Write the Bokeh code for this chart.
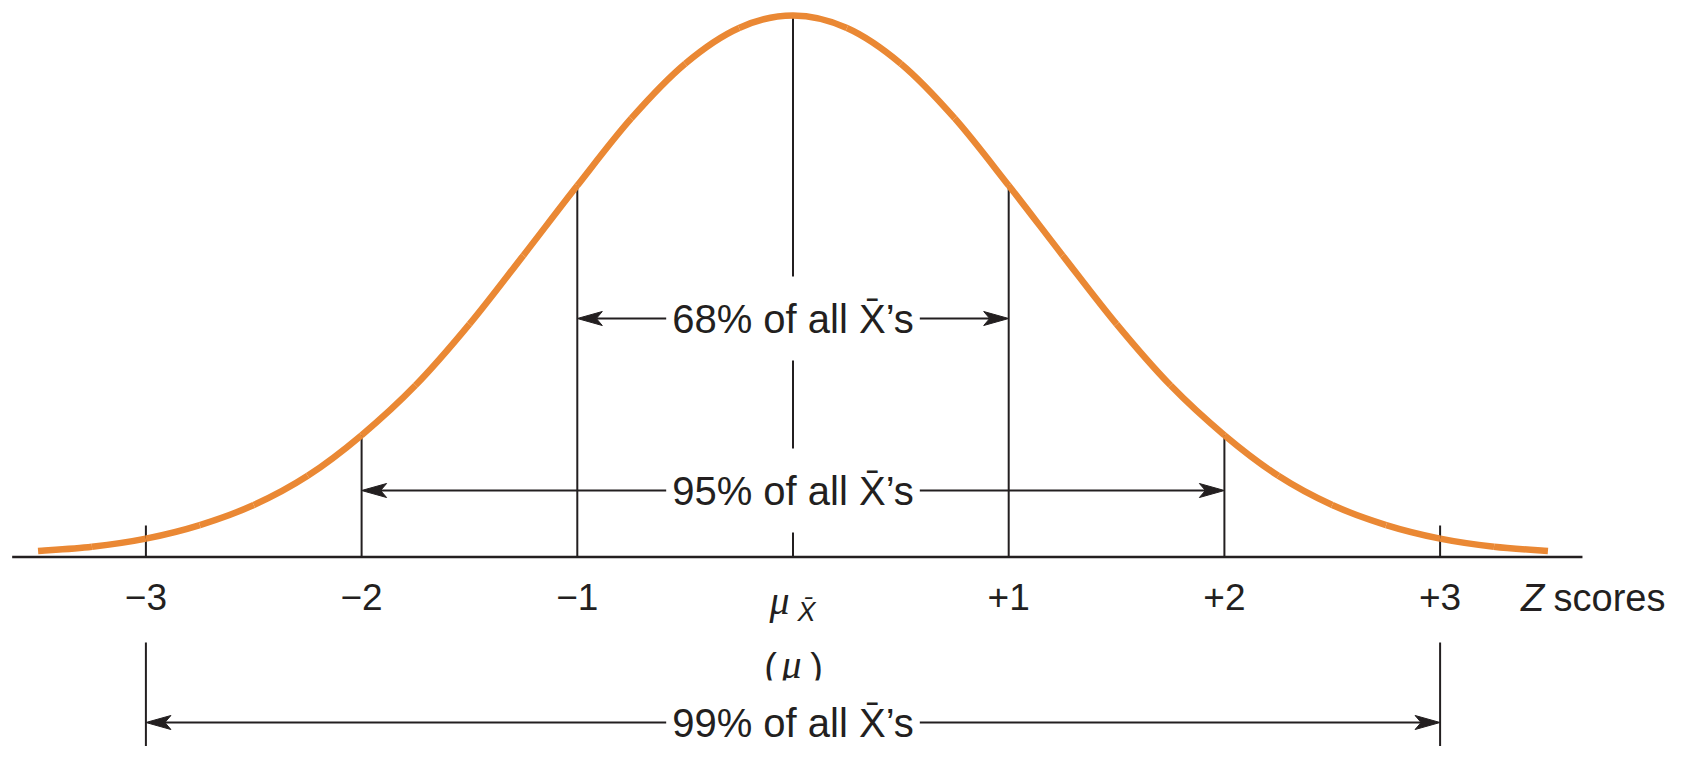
import numpy as np
from bokeh.plotting import figure
from bokeh.models import Label
from bokeh.embed import file_html
from bokeh.resources import INLINE
from bokeh.core.properties import value

# ---------------- data ----------------
curve_z = [-3.5, -3.25, -3.0, -2.75, -2.5, -2.25, -2.0, -1.75, -1.5, -1.25, -1.0, -0.75, -0.5, -0.25,
           0.0, 0.25, 0.5, 0.75, 1.0, 1.25, 1.5, 1.75, 2.0, 2.25, 2.5, 2.75, 3.0, 3.25, 3.5]
curve_h = [0.011, 0.019, 0.034, 0.059, 0.096, 0.150, 0.225, 0.317, 0.430, 0.557, 0.686, 0.810, 0.911, 0.977,
           1.000, 0.977, 0.911, 0.810, 0.686, 0.557, 0.430, 0.317, 0.225, 0.150, 0.096, 0.059, 0.034, 0.019, 0.011]
tick_z = [-3, -2, -1, 1, 2, 3]
tick_labels = ["\u22123", "\u22122", "\u22121", "+1", "+2", "+3"]
inner_lines_z = [-2, -1, 0, 1, 2]
bracket_half = [1, 2, 3]
bracket_labels = ["68% of all X\u0304\u2019s", "95% of all X\u0304\u2019s", "99% of all X\u0304\u2019s"]
axis_extent = [-3.62, 3.66]

# ---------------- layout helpers (screen px -> data) ----------------
W, H = 1672, 746
PX_X, PX_Y = 215.7, 541.5
Z0_SCREEN, AXIS_SCREEN = 792.5, 556.5
def X(sx):
    return (sx - Z0_SCREEN) / PX_X
def Y(sy):
    return (AXIS_SCREEN - sy) / PX_Y

INK = "#231f20"
ORANGE = "#EA8834"
SANS = "Liberation Sans"
SERIF = "Liberation Serif"

p = figure(width=W, height=H, x_range=(X(0), X(W)), y_range=(Y(H), Y(0)),
           x_axis_type=None, y_axis_type=None, output_backend="svg",
           toolbar_location=None, min_border=0)
p.grid.visible = False
p.outline_line_color = None
p.background_fill_color = "white"
p.border_fill_color = "white"

# baseline (Z axis)
p.segment(x0=[axis_extent[0]], y0=[0], x1=[axis_extent[1]], y1=[0], line_color=INK, line_width=2.5)

# vertical lines up to the curve
hmap = dict(zip(curve_z, curve_h))
p.segment(x0=inner_lines_z, y0=[0] * len(inner_lines_z), x1=inner_lines_z,
          y1=[hmap[z] for z in inner_lines_z], line_color=INK, line_width=2)

# +-3 short ticks
outer = [-bracket_half[-1], bracket_half[-1]]
p.segment(x0=outer, y0=[0, 0], x1=outer, y1=[Y(525)] * 2, line_color=INK, line_width=2)
# 99% bracket verticals below the axis
p.segment(x0=outer, y0=[Y(642)] * 2, x1=outer, y1=[Y(760)] * 2, line_color=INK, line_width=2)

# smooth curve (Catmull-Rom through the read points, drawn as Bezier pieces)
xs = np.array(curve_z, dtype=float)
ys = np.array(curve_h, dtype=float)
def tangents(a):
    prev = np.r_[a[0], a[:-1]]
    nxt = np.r_[a[1:], a[-1]]
    return (nxt - prev) / 6.0
tx, ty = tangents(xs), tangents(ys)
p.bezier(x0=xs[:-1], y0=ys[:-1], x1=xs[1:], y1=ys[1:],
         cx0=xs[:-1] + tx[:-1], cy0=ys[:-1] + ty[:-1],
         cx1=xs[1:] - tx[1:], cy1=ys[1:] - ty[1:],
         line_color=ORANGE, line_width=6.5, line_cap="butt")

# tick labels
p.text(x=tick_z, y=[Y(596)] * len(tick_z), text=tick_labels, text_align="center",
       text_baseline="middle", text_font=value(SANS), text_font_size="37px", text_color=INK)

# mean label  mu_{X-bar}  and (mu)
p.add_layout(Label(x=X(779), y=Y(600), text="\u03bc", text_align="center", text_baseline="middle",
                   text_font=SERIF, text_font_style="italic", text_font_size="40px", text_color=INK))
p.add_layout(Label(x=X(806), y=Y(611), text="X\u0304", text_align="center", text_baseline="middle",
                   text_font=SANS, text_font_style="italic", text_font_size="27px", text_color=INK))
p.add_layout(Label(x=X(770), y=Y(666), text="(", text_align="center", text_baseline="middle",
                   text_font=SANS, text_font_size="38px", text_color=INK))
p.add_layout(Label(x=X(791), y=Y(664), text="\u03bc", text_align="center", text_baseline="middle",
                   text_font=SERIF, text_font_style="italic", text_font_size="40px", text_color=INK))
p.add_layout(Label(x=X(816), y=Y(666), text=")", text_align="center", text_baseline="middle",
                   text_font=SANS, text_font_size="38px", text_color=INK))

# Z scores
p.add_layout(Label(x=X(1532), y=Y(597), text="Z", text_align="center", text_baseline="middle",
                   text_font=SANS, text_font_style="italic", text_font_size="38px", text_color=INK))
p.add_layout(Label(x=X(1553), y=Y(597), text="scores", text_align="left", text_baseline="middle",
                   text_font=SANS, text_font_size="38px", text_color=INK))

# bracket arrows: shafts + dart-shaped heads
arrow_y = [Y(318), Y(490), Y(722)]
HEAD_L, HEAD_W, NOTCH = 25 / PX_X, 7 / PX_Y, 19 / PX_X
sx0, sy0, sx1, sy1 = [], [], [], []
hx, hy = [], []
for half, yy in zip(bracket_half, arrow_y):
    for sgn in (-1, 1):
        tip = sgn * half
        sx0.append(0); sy0.append(yy); sx1.append(tip - sgn * NOTCH); sy1.append(yy)
        back = tip - sgn * HEAD_L
        hx.append([tip, back, tip - sgn * NOTCH, back])
        hy.append([yy, yy + HEAD_W, yy, yy - HEAD_W])
p.segment(x0=sx0, y0=sy0, x1=sx1, y1=sy1, line_color=INK, line_width=2.2)
p.patches(xs=hx, ys=hy, fill_color=INK, line_color=INK, line_width=1)

for lab, yy in zip(bracket_labels, arrow_y):
    p.add_layout(Label(x=0, y=yy, text=lab, text_align="center", text_baseline="middle",
                       text_font=SANS, text_font_size="40px", text_color=INK,
                       background_fill_color="white", padding=(6, 20)))

open("out.html", "w").write(file_html(p, INLINE))
